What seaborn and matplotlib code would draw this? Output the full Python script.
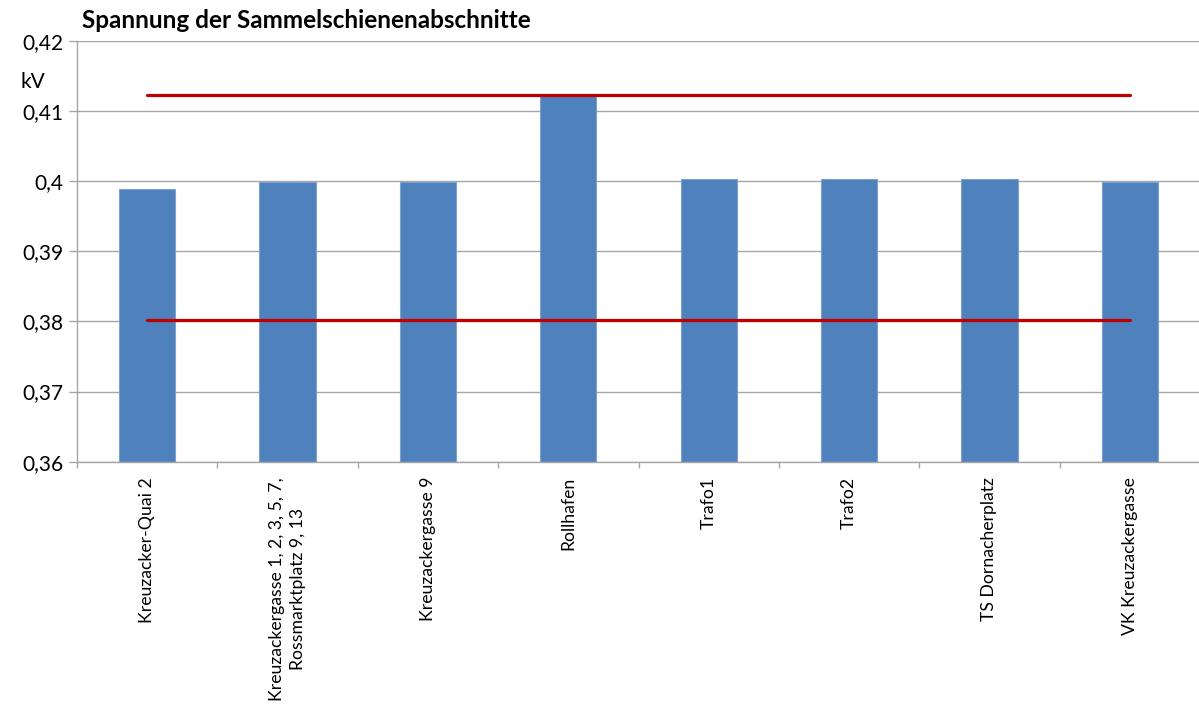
import matplotlib
matplotlib.use("Agg")
import matplotlib.pyplot as plt
import seaborn as sns
import pandas as pd
import numpy as np
from matplotlib.ticker import MultipleLocator, FuncFormatter

# Busbar sections and their measured voltage (kV)
sections = [
    "Kreuzacker-Quai 2",
    "Kreuzackergasse 1, 2, 3, 5, 7,\nRossmarktplatz 9, 13",
    "Kreuzackergasse 9",
    "Rollhafen",
    "Trafo1",
    "Trafo2",
    "TS Dornacherplatz",
    "VK Kreuzackergasse",
]
voltage_kv = [0.3988, 0.3999, 0.3999, 0.4123, 0.4003, 0.4003, 0.4003, 0.3999]

# Permitted voltage band
upper_limit_kv = [0.4123, 0.4123, 0.4123, 0.4123, 0.4123, 0.4123, 0.4123, 0.4123]
lower_limit_kv = [0.3802, 0.3802, 0.3802, 0.3802, 0.3802, 0.3802, 0.3802, 0.3802]

y_min, y_max, y_step = 0.36, 0.42, 0.01

sns.set_theme(style="white")
plt.rcParams["font.family"] = ["Lato", "DejaVu Sans"]

W, H = 1199, 706
fig = plt.figure(figsize=(W / 100, H / 100), dpi=100)
ax = fig.add_axes([77 / W, 1 - 461.7 / H, 1123 / W, (461.7 - 40.7) / H])
ax.set_axisbelow(True)

df = pd.DataFrame({
    "Abschnitt": sections,
    "Spannung": voltage_kv,
    "Obergrenze": upper_limit_kv,
    "Untergrenze": lower_limit_kv,
})

sns.barplot(data=df, x="Abschnitt", y="Spannung", color="#4F81BD",
            saturation=1, width=0.4, edgecolor="#7EA2CF", linewidth=0.8,
            ax=ax, zorder=2)
sns.lineplot(data=df, x="Abschnitt", y="Obergrenze", color="#C00000",
             linewidth=2.3, ax=ax, zorder=3)
sns.lineplot(data=df, x="Abschnitt", y="Untergrenze", color="#C00000",
             linewidth=2.3, ax=ax, zorder=3)

grid_col = "#A6A6A6"
ax.set_ylim(y_min, y_max)
ax.set_xlim(-0.5, len(sections) - 0.5)
ax.yaxis.set_major_locator(MultipleLocator(y_step))
ax.yaxis.set_major_formatter(
    FuncFormatter(lambda v, _: f"{round(v, 2):g}".replace(".", ",")))
ax.grid(axis="y", color=grid_col, linewidth=1.0)
ax.grid(axis="x", visible=False)

for side in ("top", "right"):
    ax.spines[side].set_visible(False)
for side in ("left", "bottom"):
    ax.spines[side].set_color(grid_col)
    ax.spines[side].set_linewidth(1.0)

ax.tick_params(axis="y", which="major", left=True, length=6, width=1.0,
               color=grid_col, labelsize=15, pad=4, labelcolor="black")

# category labels at centres, tick marks on the boundaries
ax.set_xticks(np.arange(len(sections)))
ax.set_xticklabels(sections, rotation=90, ha="center", va="top",
                   multialignment="center", linespacing=1.45)
ax.set_xticks(np.arange(-0.5, len(sections), 1.0), minor=True)
ax.tick_params(axis="x", which="major", bottom=False, length=0, pad=11,
               labelsize=12.7, labelcolor="black")
ax.tick_params(axis="x", which="minor", bottom=True, length=4, width=1.0,
               color=grid_col)
ax.set_xlabel("")
ax.set_ylabel("")

fig.text(33 / W, 1 - 82 / H, "kV", ha="center", va="center", fontsize=15,
         color="black")
fig.text(82 / W, 1 - 21 / H, "Spannung der Sammelschienenabschnitte",
         ha="left", va="center", fontsize=17.5, fontweight="bold",
         color="black")

fig.savefig("out.png", dpi=100)
